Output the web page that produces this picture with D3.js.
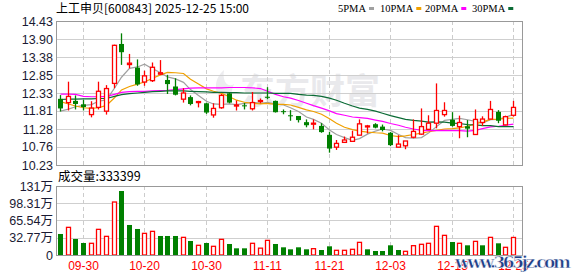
<!DOCTYPE html>
<html>
	<script src="https://d3js.org/d3.v7.min.js"></script>
	<head>
		<style>
			body
			{
				margin:0;
				background:white;
			}
			svg text
			{
				font-family:"Liberation Sans", Arial, sans-serif;
			}
		</style>
	</head>
	<body>
		<svg id="chart" width="578" height="276"></svg>
	</body>
	<script>
		// trading days shown (60 bars)
		let dates = ["09-25","09-26","09-29","09-30","10-09","10-10","10-13","10-14","10-15","10-16",
			"10-17","10-20","10-21","10-22","10-23","10-24","10-27","10-28","10-29","10-30",
			"10-31","11-03","11-04","11-05","11-06","11-07","11-10","11-11","11-12","11-13",
			"11-14","11-17","11-18","11-19","11-20","11-21","11-24","11-25","11-26","11-27",
			"11-28","12-01","12-02","12-03","12-04","12-05","12-08","12-09","12-10","12-11",
			"12-12","12-15","12-16","12-17","12-18","12-19","12-22","12-23","12-24","12-25"];
		let openP = [12.16,12.05,12.10,12.00,11.70,11.91,11.80,12.61,13.76,13.16,
			13.07,12.65,12.69,12.88,12.71,12.52,12.15,12.21,12.06,12.03,
			11.69,11.90,12.32,11.95,11.97,11.87,12.08,12.22,12.10,11.80,
			11.68,11.66,11.48,11.42,11.37,11.11,10.75,10.89,10.92,11.10,
			11.35,11.42,11.35,11.17,10.75,10.79,11.04,11.13,11.27,11.45,
			11.70,11.55,11.35,11.36,11.12,11.47,11.57,11.78,11.40,11.68];
		let highP = [12.27,12.66,12.26,12.13,12.09,12.66,12.56,13.74,14.07,13.47,
			13.31,12.98,13.22,13.29,12.86,12.76,12.47,12.26,12.10,12.05,
			12.03,12.30,12.34,12.11,12.04,12.36,12.17,12.50,12.11,11.85,
			11.83,11.66,11.56,11.56,11.45,11.20,10.96,11.06,11.23,11.56,
			11.40,11.45,11.41,11.19,11.10,10.93,11.56,11.88,11.68,12.61,
			12.06,11.77,11.67,11.54,11.85,11.65,12.10,11.83,11.67,12.10];
		let lowP = [11.79,11.82,11.85,11.82,11.62,11.85,11.70,12.47,13.15,13.05,
			12.54,12.54,12.65,12.86,12.30,12.26,12.05,11.97,11.91,11.72,
			11.61,11.87,12.03,11.82,11.85,11.82,12.03,12.15,11.76,11.71,
			11.52,11.47,11.33,11.27,11.17,10.59,10.67,10.89,10.92,11.10,
			11.15,11.30,11.21,10.78,10.75,10.69,11.01,11.11,11.25,11.30,
			11.64,11.35,11.01,11.04,11.12,11.37,11.57,11.45,11.39,11.64];
		let closeP = [11.88,12.23,12.01,11.92,11.89,12.38,12.46,13.72,13.52,13.20,
			12.58,12.83,13.08,12.92,12.59,12.28,12.33,12.01,12.08,11.76,
			11.88,12.26,12.05,11.98,11.95,12.05,12.11,12.19,11.77,11.78,
			11.66,11.54,11.39,11.45,11.19,10.71,10.86,10.96,11.04,11.43,
			11.37,11.32,11.25,10.81,10.84,10.93,11.21,11.35,11.45,11.82,
			11.82,11.37,11.47,11.29,11.56,11.57,11.85,11.52,11.64,11.91];
		// volume in 万
		let volume = [39.9,52.5,30.4,22.8,22.2,48.7,35.4,100.6,121.5,57.0,
			49.4,41.1,44.9,36.1,36.1,36.1,33.5,26.6,18.4,22.8,
			16.5,29.7,20.9,12.7,12.7,22.2,13.0,27.8,20.9,14.6,
			10.8,14.6,10.8,12.0,9.5,16.5,8.9,8.9,10.8,24.0,
			10.8,7.6,7.6,18.4,9.5,7.0,17.7,20.3,22.2,54.4,
			37.3,24.7,22.2,18.4,25.9,18.4,33.5,22.2,14.6,33.3];
		let volUp = [0,1,0,0,1,1,1,1,0,0,
			0,1,1,0,0,0,1,0,1,0,
			1,1,0,0,0,1,1,1,0,0,
			0,0,0,1,0,0,1,1,1,1,
			0,0,0,0,0,1,1,1,1,1,
			1,0,1,0,1,0,1,0,1,1];
		let ma5 = [11.80,11.86,11.93,11.97,11.99,12.09,12.13,12.47,12.79,13.05,
			13.09,13.17,13.04,12.92,12.80,12.74,12.64,12.43,12.26,12.09,
			12.01,12.00,12.01,11.99,12.03,12.06,12.03,12.06,12.01,11.98,
			11.90,11.79,11.63,11.56,11.45,11.25,11.12,11.03,10.95,11.00,
			11.13,11.22,11.28,11.24,11.12,11.03,11.01,11.03,11.16,11.35,
			11.53,11.56,11.59,11.55,11.50,11.45,11.55,11.56,11.63,11.70];
		let ma10 = [12.08,12.01,11.95,11.90,11.88,11.90,11.97,12.19,12.42,12.52,
			12.59,12.65,12.76,12.86,12.93,12.92,12.90,12.73,12.59,12.45,
			12.38,12.32,12.22,12.12,12.06,12.03,12.01,12.03,12.00,12.00,
			11.98,11.91,11.84,11.79,11.71,11.58,11.45,11.33,11.26,11.22,
			11.19,11.17,11.16,11.09,11.06,11.08,11.12,11.16,11.20,11.24,
			11.28,11.29,11.31,11.36,11.43,11.49,11.56,11.57,11.59,11.60];
		let ma20 = [12.30,12.30,12.29,12.23,12.22,12.22,12.23,12.29,12.35,12.37,
			12.38,12.38,12.39,12.40,12.41,12.43,12.45,12.47,12.48,12.48,
			12.48,12.48,12.49,12.49,12.49,12.48,12.46,12.38,12.29,12.22,
			12.18,12.11,12.03,11.96,11.89,11.81,11.73,11.68,11.63,11.61,
			11.59,11.54,11.50,11.44,11.39,11.33,11.28,11.24,11.23,11.23,
			11.24,11.23,11.23,11.22,11.24,11.29,11.34,11.36,11.39,11.42];
		let ma30 = [12.14,12.15,12.15,12.16,12.16,12.17,12.17,12.23,12.28,12.31,
			12.33,12.35,12.37,12.38,12.39,12.39,12.39,12.38,12.37,12.36,
			12.35,12.35,12.34,12.34,12.33,12.33,12.33,12.33,12.32,12.32,
			12.32,12.29,12.27,12.26,12.23,12.18,12.12,12.03,11.95,11.89,
			11.85,11.80,11.74,11.67,11.61,11.56,11.53,11.51,11.48,11.49,
			11.48,11.45,11.44,11.41,11.40,11.38,11.38,11.35,11.35,11.35];

		let priceTicks = [10.23,10.76,11.28,11.81,12.33,12.85,13.38,13.90,14.43];
		let volTicks = [0,32.77,65.54,98.31,131];
		let volTickLabels = ["0","32.77万","65.54万","98.31万","131万"];
		let dateTicks = ["09-30","10-20","10-30","11-11","11-21","12-03","12-15","12-25"];
		let maNames = ["5PMA","10PMA","20PMA","30PMA"];
		let maColors = ["#a0a0a0","#f0a000","#ff00ff","#0b6b35"];

		let up = "#ff0000";
		let down = "#008000";
		let left = 56, right = 522;
		let priceTop = 21, priceBottom = 165;
		let volTop = 186, volBottom = 255;

		let svg = d3.select("#chart");

		let x = d3.scaleBand()
			.domain(dates)
			.range([left, left + 7.68 * dates.length]);
		let cx = (d) => Math.round(x(d) + x.bandwidth() / 2) + 0.5;

		let y = d3.scaleLinear()
			.domain([priceTicks[0], priceTicks[priceTicks.length - 1]])
			.range([priceBottom, priceTop]);
		let yv = d3.scaleLinear()
			.domain([0, 131])
			.range([volBottom, volTop]);

		// watermark
		svg.append("text")
			.attr("x", 240).attr("y", 104)
			.attr("font-family", "'Noto Sans CJK SC'")
			.attr("font-size", 35)
			.attr("font-weight", "bold")
			.attr("fill", "#e9e9ec")
			.style("font-family", "'Noto Sans CJK SC'")
			.text("东方财富");
		svg.append("path")
			.attr("d", "M226,104 C214,96 212,80 224,70 C222,82 228,88 234,84 C230,94 232,100 226,104 Z")
			.attr("fill", "#ececef");

		// grid lines
		let grid = svg.append("g");
		grid.selectAll(".hp")
			.data(priceTicks.slice(0, -1).slice(1))
			.enter().append("line")
			.attr("x1", left).attr("x2", right)
			.attr("y1", (d) => Math.round(y(d)) + 0.5)
			.attr("y2", (d) => Math.round(y(d)) + 0.5)
			.attr("stroke", "#cfcfcf");
		grid.selectAll(".hv")
			.data(volTicks.slice(1, -1))
			.enter().append("line")
			.attr("x1", left).attr("x2", right)
			.attr("y1", (d) => Math.round(yv(d)) + 0.5)
			.attr("y2", (d) => Math.round(yv(d)) + 0.5)
			.attr("stroke", "#cfcfcf");
		[[priceTop, priceBottom], [volTop, volBottom]].forEach(function(r) {
			grid.selectAll(null)
				.data(dateTicks)
				.enter().append("line")
				.attr("x1", cx).attr("x2", cx)
				.attr("y1", r[0]).attr("y2", r[1])
				.attr("stroke", "#cccccc")
				.attr("stroke-dasharray", "4,3");
		});

		// MA lines
		let maData = [ma5, ma10, ma20, ma30];
		maData.forEach(function(arr, k) {
			let line = d3.line()
				.x((d, i) => cx(dates[i]))
				.y((d) => y(d));
			svg.append("path")
				.attr("d", line(arr))
				.attr("fill", "none")
				.attr("stroke", maColors[k])
				.attr("stroke-width", 1.2);
		});

		// candles
		let candles = svg.append("g").selectAll("g")
			.data(dates)
			.enter().append("g");
		candles.append("line")
			.attr("x1", cx).attr("x2", cx)
			.attr("y1", (d, i) => y(highP[i]))
			.attr("y2", (d, i) => y(lowP[i]))
			.attr("stroke", (d, i) => closeP[i] >= openP[i] ? up : down)
			.attr("stroke-width", 1.3);
		candles.append("rect")
			.attr("x", (d, i) => closeP[i] >= openP[i] ? cx(d) - 2 : cx(d) - 2.5)
			.attr("width", (d, i) => closeP[i] >= openP[i] ? 4 : 5)
			.attr("y", (d, i) => y(Math.max(openP[i], closeP[i])))
			.attr("height", (d, i) => Math.max(1, Math.abs(y(openP[i]) - y(closeP[i]))))
			.attr("fill", (d, i) => closeP[i] >= openP[i] ? "white" : down)
			.attr("stroke", (d, i) => closeP[i] >= openP[i] ? up : "none")
			.attr("stroke-width", 1.3);

		// volume bars
		svg.append("g").selectAll("rect")
			.data(dates)
			.enter().append("rect")
			.attr("x", (d, i) => volUp[i] ? cx(d) - 2 : cx(d) - 2.5)
			.attr("width", (d, i) => volUp[i] ? 4 : 5)
			.attr("y", (d, i) => yv(volume[i]))
			.attr("height", (d, i) => volBottom - yv(volume[i]))
			.attr("fill", (d, i) => volUp[i] ? "white" : down)
			.attr("stroke", (d, i) => volUp[i] ? up : "none")
			.attr("stroke-width", 1.3);

		// frames
		[[priceTop, priceBottom], [volTop, volBottom]].forEach(function(r) {
			svg.append("rect")
				.attr("x", left + 0.5).attr("y", r[0] + 0.5)
				.attr("width", right - left).attr("height", r[1] - r[0])
				.attr("fill", "none")
				.attr("stroke", "#999999");
		});

		// y axis labels
		svg.append("g").selectAll("text")
			.data(priceTicks)
			.enter().append("text")
			.attr("x", 53)
			.attr("y", (d) => y(d))
			.attr("dy", "0.36em")
			.attr("text-anchor", "end")
			.attr("font-size", 12.5)
			.attr("fill", "#1a1a33")
			.text((d) => d.toFixed(2));
		svg.append("g").selectAll("text")
			.data(volTicks)
			.enter().append("text")
			.attr("x", 53)
			.attr("y", (d) => yv(d))
			.attr("dy", "0.36em")
			.attr("text-anchor", "end")
			.attr("font-size", 12.5)
			.attr("fill", "#1a1a33")
			.style("font-family", "'Liberation Sans','Noto Sans CJK SC'")
			.text((d, i) => volTickLabels[i]);

		// date labels
		svg.append("g").selectAll("text")
			.data(dateTicks)
			.enter().append("text")
			.attr("x", cx)
			.attr("y", 266)
			.attr("dy", "0.36em")
			.attr("text-anchor", "middle")
			.attr("font-size", 12)
			.attr("fill", "#ff0000")
			.text((d) => d);

		// title and legend
		svg.append("text")
			.attr("x", 56).attr("y", 13)
			.attr("font-size", 12)
			.style("font-family", "'Noto Sans CJK SC'")
			.text("上工申贝[600843] 2025-12-25 15:00");
		let legendX = [338, 380, 425, 472];
		maNames.forEach(function(n, k) {
			let t = svg.append("text")
				.attr("x", legendX[k]).attr("y", 12)
				.attr("font-size", 10.5)
				.style("font-family", "'Liberation Serif'")
				.text(n);
			let w = t.node().getComputedTextLength();
			svg.append("rect")
				.attr("x", legendX[k] + w + 3).attr("y", 7)
				.attr("width", 5).attr("height", 3)
				.attr("fill", maColors[k]);
		});
		svg.append("text")
			.attr("x", 58).attr("y", 181)
			.attr("font-size", 12.5)
			.style("font-family", "'Noto Sans CJK SC'")
			.text("成交量:333399");

		// site watermark
		svg.append("text")
			.attr("x", 455).attr("y", 268)
			.attr("font-size", 17)
			.attr("font-weight", "bold")
			.attr("textLength", 116)
			.attr("fill", "#1f3f88")
			.attr("stroke", "white")
			.attr("stroke-width", 0.5)
			.style("font-family", "'DejaVu Serif'")
			.text("www.365jz.com");
	</script>
</html>
